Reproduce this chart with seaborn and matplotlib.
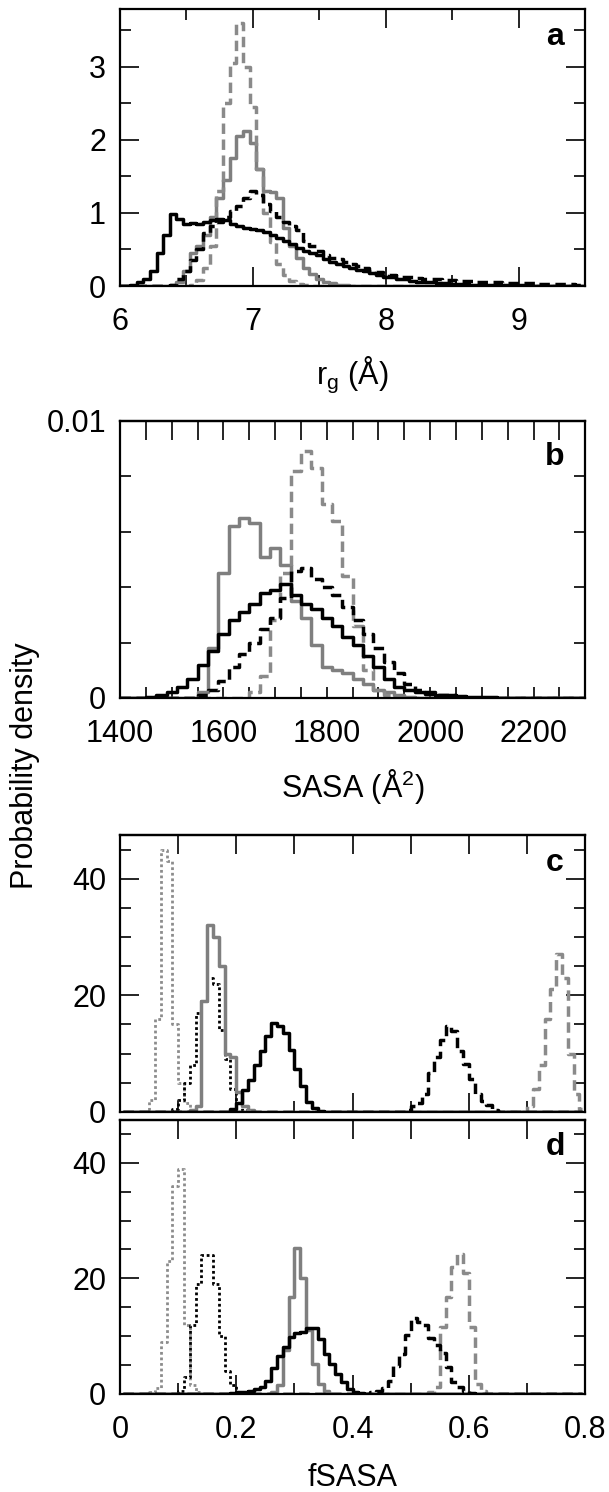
import numpy as np
import pandas as pd
import matplotlib.pyplot as plt
import matplotlib.ticker as mt
import seaborn as sns

# ---- data: first bin centre + densities per bin ----
# panel a: radius of gyration, bin width 0.05 A
a_step = 0.05
a_black_solid_x0 = 6.10
a_black_solid = [0.02, 0.05, 0.1, 0.2, 0.45, 0.7, 0.98, 0.92, 0.85, 0.86, 0.85, 0.88, 0.9, 0.92,
                 0.9, 0.85, 0.82, 0.8, 0.78, 0.76, 0.74, 0.7, 0.65, 0.62, 0.58, 0.52, 0.48, 0.45,
                 0.42, 0.37, 0.33, 0.3, 0.27, 0.25, 0.22, 0.2, 0.18, 0.15, 0.13, 0.12, 0.1, 0.09,
                 0.07, 0.06, 0.05, 0.05, 0.04, 0.035, 0.03, 0.03, 0.025, 0.02, 0.02, 0.015, 0.015,
                 0.01, 0.01, 0.01, 0.01, 0.01, 0.005, 0.005, 0.005, 0.005, 0.005, 0.005, 0.005,
                 0.005, 0.005]
a_black_dashed_x0 = 6.40
a_black_dashed = [0.02, 0.1, 0.2, 0.35, 0.5, 0.72, 0.82, 0.88, 0.95, 1.02, 1.1, 1.2, 1.3, 1.25,
                  1.12, 1.03, 0.95, 0.88, 0.82, 0.76, 0.62, 0.55, 0.48, 0.42, 0.39, 0.37, 0.33,
                  0.3, 0.27, 0.24, 0.21, 0.19, 0.17, 0.15, 0.14, 0.13, 0.12, 0.11, 0.1, 0.1, 0.09,
                  0.085, 0.08, 0.075, 0.07, 0.065, 0.06, 0.055, 0.05, 0.05, 0.045, 0.04, 0.04,
                  0.035, 0.035, 0.03, 0.03, 0.03, 0.025, 0.025, 0.025, 0.02, 0.02]
a_gray_solid_x0 = 6.40
a_gray_solid = [0.02, 0.05, 0.2, 0.45, 0.55, 0.7, 0.95, 1.2, 1.45, 1.75, 2.05, 2.12, 1.95, 1.6,
                1.3, 1.28, 1.2, 0.8, 0.55, 0.38, 0.25, 0.16, 0.1, 0.06, 0.04, 0.02, 0.01, 0.005]
a_gray_dashed_x0 = 6.50
a_gray_dashed = [0.0, 0.02, 0.08, 0.25, 0.55, 1.3, 2.5, 3.05, 3.6, 3.0, 2.45, 1.6, 1.0, 0.6,
                 0.3, 0.15, 0.07, 0.03, 0.01, 0.0]

# panel b: SASA, bin width 20 A^2
b_step = 20
b_black_solid_x0 = 1460
b_black_solid = [0.00003, 0.0001, 0.0002, 0.0004, 0.0007, 0.0012, 0.0017, 0.0023, 0.0028, 0.0031,
                 0.0034, 0.0038, 0.0039, 0.0041, 0.0037, 0.0034, 0.0032, 0.0029, 0.0026, 0.0022,
                 0.0019, 0.0015, 0.0011, 0.0007, 0.0004, 0.0003, 0.0002, 0.00015, 0.0001, 0.0001,
                 0.00007, 0.00005, 0.00003, 0.00002]
b_black_dashed_x0 = 1560
b_black_dashed = [0.0001, 0.0003, 0.0006, 0.0011, 0.0016, 0.002, 0.0025, 0.0029, 0.0036, 0.0046,
                  0.0047, 0.0043, 0.004, 0.0037, 0.0033, 0.0028, 0.0023, 0.0018, 0.0013, 0.0009,
                  0.0005, 0.0003, 0.0002, 0.0001, 0.0001, 0.00005]
b_gray_solid_x0 = 1540
b_gray_solid = [0.0, 0.0002, 0.0018, 0.0045, 0.0062, 0.0065, 0.0063, 0.0051, 0.0054, 0.0048,
                0.0035, 0.0029, 0.0019, 0.0011, 0.001, 0.0009, 0.0007, 0.0005, 0.0003, 0.0002,
                0.0001, 0.00005]
b_gray_dashed_x0 = 1640
b_gray_dashed = [0.0, 0.0002, 0.0008, 0.0028, 0.0045, 0.0082, 0.0089, 0.0083, 0.007, 0.0064,
                 0.0044, 0.0026, 0.001, 0.0003, 0.0001]

# panels c and d: fractional SASA, bin width 0.01
f_step = 0.01
c_gray_dotted_x0 = 0.055
c_gray_dotted = [2, 16, 45, 43, 15, 5, 1.5, 0.3]
c_black_dotted_x0 = 0.095
c_black_dotted = [0.5, 2, 5, 8, 17, 19, 23, 22, 14, 9, 4, 1.5, 0.3]
c_gray_solid_x0 = 0.125
c_gray_solid = [0.3, 1, 19, 32, 30, 25, 10, 9.5, 3.5, 1, 0.3]
c_black_solid_x0 = 0.195
c_black_solid = [0.5, 1.5, 3.8, 5.5, 8, 10.5, 13, 15.2, 14.7, 13.5, 10.7, 7.3, 4.4, 1.7, 0.6, 0.2]
c_black_dashed_x0 = 0.495
c_black_dashed = [0.3, 1, 1.5, 3, 6.6, 9.5, 12.3, 14.8, 13.9, 10.5, 8.2, 5.7, 3.1, 1.8, 1.2, 0.4]
c_gray_dashed_x0 = 0.705
c_gray_dashed = [1, 4, 8, 16, 21, 27, 23, 10, 3, 0.5]

d_gray_dotted_x0 = 0.055
d_gray_dotted = [0.3, 1, 9, 23, 36, 39, 12, 1.5, 0.3]
d_black_dotted_x0 = 0.105
d_black_dotted = [0.5, 3, 12, 19, 24, 24, 19, 10, 4, 1.5, 0.3]
d_gray_solid_x0 = 0.265
d_gray_solid = [0.3, 1.5, 7.6, 16.8, 25.2, 20, 11, 5.2, 1.7, 0.5]
d_black_solid_x0 = 0.195
d_black_solid = [0.2, 0.3, 0.4, 0.6, 0.9, 1.2, 2.3, 4.5, 6.5, 8.2, 9.9, 10.5, 10.8, 11.4, 11.4,
                 9.5, 7, 5.2, 3.5, 2, 0.9, 0.4, 0.2]
d_black_dashed_x0 = 0.435
d_black_dashed = [0.3, 0.6, 1, 2.3, 4.9, 7, 10.2, 13.1, 12.5, 12, 9.7, 8.5, 7.1, 4.7, 2.1, 1.2,
                  0.6, 0.2]
d_gray_dashed_x0 = 0.535
d_gray_dashed = [0.3, 1.2, 11.6, 16.8, 22, 24.3, 20.9, 11.6, 1.8, 0.5]

# ---- styling ----
sns.set_style("ticks")
plt.rcParams['font.family'] = ['Liberation Sans', 'DejaVu Sans']
plt.rcParams['mathtext.default'] = 'regular'
plt.rcParams['text.color'] = 'black'
plt.rcParams['axes.labelcolor'] = 'black'
plt.rcParams['xtick.color'] = 'black'
plt.rcParams['ytick.color'] = 'black'
plt.rcParams['axes.edgecolor'] = 'black'

styles = {
    'gray solid':   dict(color='#7f7f7f', linestyle='-', linewidth=2.5),
    'gray dashed':  dict(color='#8a8a8a', linestyle=(0, (3, 1.6)), linewidth=2.5),
    'gray dotted':  dict(color='#8c8c8c', linestyle=(0, (1, 1)), linewidth=2.0),
    'black dotted': dict(color='black', linestyle=(0, (1, 1)), linewidth=2.0),
    'black dashed': dict(color='black', linestyle=(0, (3, 1.6)), linewidth=2.5),
    'black solid':  dict(color='black', linestyle='-', linewidth=2.5),
}


def build(grid, step, series):
    # put each histogram on the full bin grid (empty bins = 0)
    rows = []
    for name, (x0, vals) in series.items():
        x = np.round(x0 + step * np.arange(len(vals)), 4)
        s = pd.Series(vals, index=x).reindex(np.round(grid, 4), fill_value=0.0)
        rows.append(pd.DataFrame({'x': s.index, 'density': s.values, 'series': name}))
    return pd.concat(rows, ignore_index=True)


df_a = build(np.arange(6.0, 9.5 + 1e-9, a_step), a_step, {
    'gray solid': (a_gray_solid_x0, a_gray_solid),
    'gray dashed': (a_gray_dashed_x0, a_gray_dashed),
    'black dashed': (a_black_dashed_x0, a_black_dashed),
    'black solid': (a_black_solid_x0, a_black_solid)})
df_b = build(np.arange(1400, 2300 + 1, b_step), b_step, {
    'gray solid': (b_gray_solid_x0, b_gray_solid),
    'gray dashed': (b_gray_dashed_x0, b_gray_dashed),
    'black dashed': (b_black_dashed_x0, b_black_dashed),
    'black solid': (b_black_solid_x0, b_black_solid)})
f_grid = np.arange(0.005, 0.8, f_step)
df_c = build(f_grid, f_step, {
    'gray dotted': (c_gray_dotted_x0, c_gray_dotted),
    'black dotted': (c_black_dotted_x0, c_black_dotted),
    'gray solid': (c_gray_solid_x0, c_gray_solid),
    'gray dashed': (c_gray_dashed_x0, c_gray_dashed),
    'black dashed': (c_black_dashed_x0, c_black_dashed),
    'black solid': (c_black_solid_x0, c_black_solid)})
df_d = build(f_grid, f_step, {
    'gray dotted': (d_gray_dotted_x0, d_gray_dotted),
    'black dotted': (d_black_dotted_x0, d_black_dotted),
    'gray solid': (d_gray_solid_x0, d_gray_solid),
    'gray dashed': (d_gray_dashed_x0, d_gray_dashed),
    'black dashed': (d_black_dashed_x0, d_black_dashed),
    'black solid': (d_black_solid_x0, d_black_solid)})

fig = plt.figure(figsize=(6.09, 14.92), dpi=100)
L, W = 0.197, 0.764
ax_a = fig.add_axes([L, 0.8083, W, 0.1857])
ax_b = fig.add_axes([L, 0.5322, W, 0.1857])
ax_c = fig.add_axes([L, 0.2547, W, 0.1857])
ax_d = fig.add_axes([L, 0.0657, W, 0.1836])

FS = 22
MAJ, MIN = 14, 8
for ax, df in [(ax_a, df_a), (ax_b, df_b), (ax_c, df_c), (ax_d, df_d)]:
    for name in df['series'].unique():
        sub = df[df['series'] == name]
        sns.lineplot(data=sub, x='x', y='density', ax=ax, drawstyle='steps-mid',
                     errorbar=None, legend=False, **styles[name])
    ax.set_xlabel('')
    ax.set_ylabel('')
    for sp in ax.spines.values():
        sp.set_linewidth(1.6)
    ax.tick_params(which='both', direction='in', top=True, right=True, width=1.2,
                   labelsize=FS)
    ax.tick_params(which='major', length=MAJ)
    ax.tick_params(which='minor', length=MIN)
    ax.tick_params(axis='x', pad=15)
    ax.tick_params(axis='y', pad=10)

# a
ax_a.set_xlim(6, 9.5)
ax_a.set_ylim(0, 3.79)
ax_a.xaxis.set_major_locator(mt.MultipleLocator(1))
ax_a.xaxis.set_minor_locator(mt.MultipleLocator(0.5))
ax_a.yaxis.set_major_locator(mt.MultipleLocator(1))
ax_a.yaxis.set_minor_locator(mt.MultipleLocator(0.5))
ax_a.set_xlabel('r$_{g}$ (Å)', fontsize=FS, labelpad=13)

# b
ax_b.set_xlim(1400, 2300)
ax_b.set_ylim(0, 0.01)
ax_b.xaxis.set_major_locator(mt.MultipleLocator(200))
ax_b.xaxis.set_minor_locator(mt.MultipleLocator(50))
ax_b.yaxis.set_major_locator(mt.FixedLocator([0, 0.01]))
ax_b.yaxis.set_major_formatter(mt.FixedFormatter(['0', '0.01']))
ax_b.yaxis.set_minor_locator(mt.MultipleLocator(0.002))
ax_b.tick_params(axis='x', which='both', length=MIN, top=False)
ax_b.set_xlabel('SASA (Å$^{2}$)', fontsize=FS, labelpad=13)

# c, d
for ax, top in [(ax_c, 47.5), (ax_d, 47.4)]:
    ax.set_xlim(0, 0.8)
    ax.set_ylim(0, top)
    ax.xaxis.set_major_locator(mt.MultipleLocator(0.2))
    ax.xaxis.set_minor_locator(mt.MultipleLocator(0.1))
    ax.yaxis.set_major_locator(mt.MultipleLocator(20))
    ax.yaxis.set_minor_locator(mt.MultipleLocator(5))
    ax.xaxis.set_major_formatter(mt.FuncFormatter(lambda v, p: f'{v:g}'))
    ax.tick_params(axis='x', which='both', top=False)
ax_c.tick_params(axis='x', labelbottom=False)
ax_d.set_xlabel('fSASA', fontsize=FS, labelpad=13)

# top edge: every tick drawn long on b, c, d
for ax, step in [(ax_b, 50), (ax_c, 0.1), (ax_d, 0.1)]:
    sec = ax.secondary_xaxis('top')
    sec.xaxis.set_major_locator(mt.MultipleLocator(step))
    sec.tick_params(direction='in', length=MAJ, width=1.2, labeltop=False)
    sec.spines['top'].set_linewidth(1.6)

for ax, lab, ypos in [(ax_a, 'a', 0.90), (ax_b, 'b', 0.87), (ax_c, 'c', 0.90), (ax_d, 'd', 0.90)]:
    ax.text(0.935, ypos, lab, transform=ax.transAxes, ha='center', va='center',
            fontsize=23, fontweight='bold')

fig.text(0.041, 0.487, 'Probability density', rotation=90, ha='center', va='center',
         fontsize=FS)

fig.savefig('out.png', dpi=100)
